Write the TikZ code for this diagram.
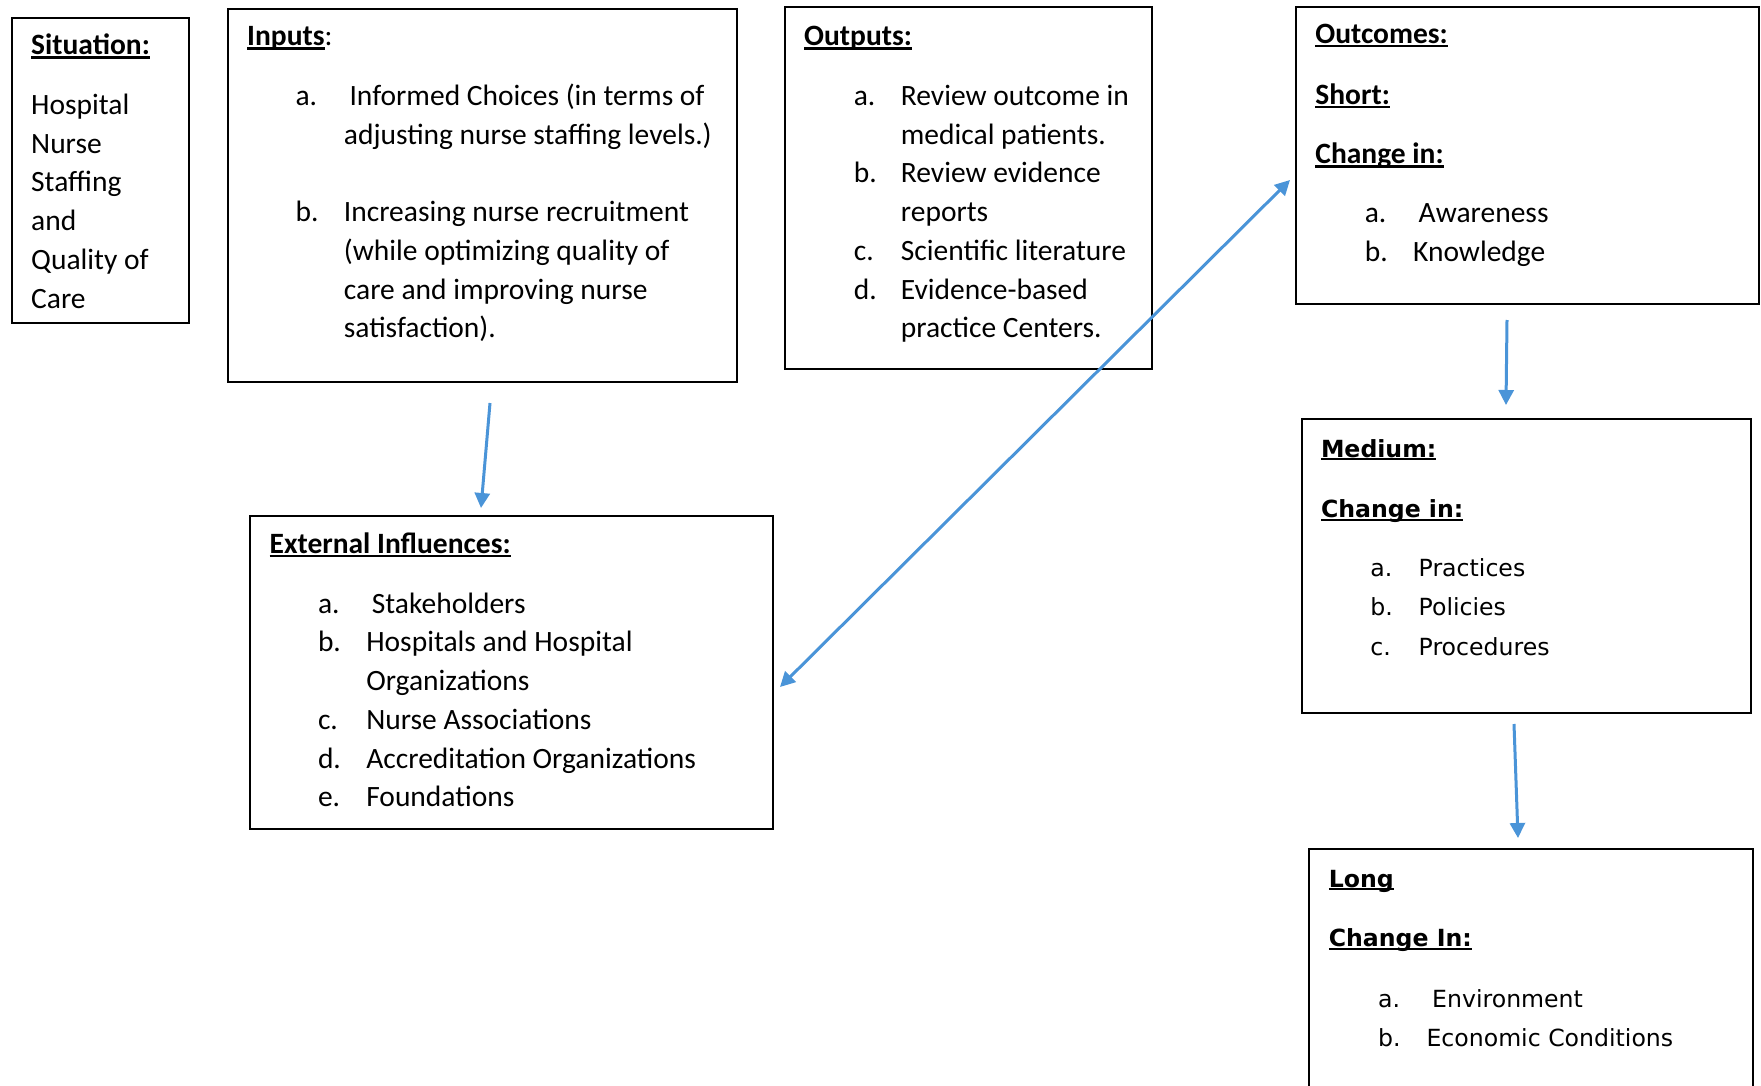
\documentclass[tikz,border=0pt]{standalone}
\usepackage{fontspec}
\usetikzlibrary{arrows.meta}
\newfontfamily\carl{Carlito}
\newfontfamily\dejav{DejaVu Sans}
\newcommand\fA{\carl\fontsize{29.5}{35}\selectfont}
\newcommand\fB{\dejav\fontsize{23.6}{28}\selectfont}
\newcommand\myul[1]{\setbox0\hbox{#1}\rlap{\rule[-0.12em]{\wd0}{0.07em}}\box0}
\definecolor{arrowblue}{RGB}{74,148,216}
\tikzset{
  box/.style={draw=black, line width=2pt, anchor=north west, inner sep=0pt},
  ta/.style={anchor=base west, inner sep=0pt, font=\fA},
  tb/.style={anchor=base west, inner sep=0pt, font=\fB},
  arr/.style={draw=arrowblue, line width=3pt, -{Triangle[length=15pt,width=15pt]}},
  darr/.style={draw=arrowblue, line width=3pt, {Triangle[length=15pt,width=15pt]}-{Triangle[length=15pt,width=15pt]}}
}
\begin{document}
\begin{tikzpicture}[x=1pt,y=-1pt]
\clip (0,0) rectangle (1761,1086);
\fill[white] (0,0) rectangle (1761,1086);
% boxes
\node[box, minimum width=177pt, minimum height=305pt] (sit) at (11,17) {};
\node[box, minimum width=509pt, minimum height=373pt] (inp) at (227,8) {};
\node[box, minimum width=367pt, minimum height=362pt] (outp) at (784,6) {};
\node[box, minimum width=463pt, minimum height=297pt] (outc) at (1295,6) {};
\node[box, minimum width=523pt, minimum height=313pt] (ext) at (249,515) {};
\node[box, minimum width=449pt, minimum height=294pt] (med) at (1301,418) {};
\node[box, minimum width=444pt, minimum height=260pt] (lng) at (1308,848) {};
% Situation
\node[ta] (s0) at (31,55) {\myul{\bfseries Situation:}};
\node[ta] (s1) at (31,114.6) {Hospital};
\node[ta] (s2) at (31,153.3) {Nurse};
\node[ta] (s3) at (31,192) {Staffing};
\node[ta] (s4) at (31,230.7) {and};
\node[ta] (s5) at (31,269.4) {Quality of};
\node[ta] (s6) at (31,308.1) {Care};
% Inputs
\node[ta] (i0) at (247,46) {\myul{\bfseries Inputs}:};
\node[ta] (i1a) at (295.4,105.6) {a.};
\node[ta] (i1) at (349.3,105.6) {Informed Choices (in terms of};
\node[ta] (i2) at (343.7,144.3) {adjusting nurse staffing levels.)};
\node[ta] (i3a) at (295.4,221.7) {b.};
\node[ta] (i3) at (343.7,221.7) {Increasing nurse recruitment};
\node[ta] (i4) at (343.7,260.4) {(while optimizing quality of};
\node[ta] (i5) at (343.7,299.1) {care and improving nurse};
\node[ta] (i6) at (343.7,337.8) {satisfaction).};
% Outputs
\node[ta] (o0) at (804,46) {\myul{\bfseries Outputs:}};
\node[ta] (o1a) at (853.6,105.6) {a.};
\node[ta] (o1) at (900.7,105.6) {Review outcome in};
\node[ta] (o2) at (900.7,144.3) {medical patients.};
\node[ta] (o3a) at (853.6,183) {b.};
\node[ta] (o3) at (900.7,183) {Review evidence};
\node[ta] (o4) at (900.7,221.7) {reports};
\node[ta] (o5a) at (853.6,260.4) {c.};
\node[ta] (o5) at (900.7,260.4) {Scientific literature};
\node[ta] (o6a) at (853.6,299.1) {d.};
\node[ta] (o6) at (900.7,299.1) {Evidence-based};
\node[ta] (o7) at (900.7,337.8) {practice Centers.};
% Outcomes
\node[ta] (c0) at (1315.2,43.8) {\myul{\bfseries Outcomes:}};
\node[ta] (c1) at (1315.2,104.5) {\myul{\bfseries Short:}};
\node[ta] (c2) at (1315.2,164) {\myul{\bfseries Change in:}};
\node[ta] (c3a) at (1364.6,222.4) {a.};
\node[ta] (c3) at (1418.5,222.4) {Awareness};
\node[ta] (c4a) at (1364.6,261.4) {b.};
\node[ta] (c4) at (1412.9,261.4) {Knowledge};
% External influences
\node[ta] (e0) at (269.5,553.7) {\myul{\bfseries External Influences:}};
\node[ta] (e1a) at (317.8,613.2) {a.};
\node[ta] (e1) at (371.7,613.2) {Stakeholders};
\node[ta] (e2a) at (317.8,651.9) {b.};
\node[ta] (e2) at (366.1,651.9) {Hospitals and Hospital};
\node[ta] (e3) at (366.1,690.6) {Organizations};
\node[ta] (e4a) at (317.8,729.3) {c.};
\node[ta] (e4) at (366.1,729.3) {Nurse Associations};
\node[ta] (e5a) at (317.8,768) {d.};
\node[ta] (e5) at (366.1,768) {Accreditation Organizations};
\node[ta] (e6a) at (317.8,806.7) {e.};
\node[ta] (e6) at (366.1,806.7) {Foundations};
% Medium
\node[tb] (m0) at (1320.8,457) {\myul{\bfseries Medium:}};
\node[tb] (m1) at (1320.8,517.8) {\myul{\bfseries Change in:}};
\node[tb] (m2a) at (1370.2,576) {a.};
\node[tb] (m2) at (1418.5,576) {Practices};
\node[tb] (m3a) at (1370.2,615.5) {b.};
\node[tb] (m3) at (1418.5,615.5) {Policies};
\node[tb] (m4a) at (1370.2,655) {c.};
\node[tb] (m4) at (1418.5,655) {Procedures};
% Long
\node[tb] (l0) at (1328.6,887) {\myul{\bfseries Long}};
\node[tb] (l1) at (1328.6,946.8) {\myul{\bfseries Change In:}};
\node[tb] (l2a) at (1378,1007.4) {a.};
\node[tb] (l2) at (1432,1007.4) {Environment};
\node[tb] (l3a) at (1378,1046.7) {b.};
\node[tb] (l3) at (1426.3,1046.7) {Economic Conditions};
% connector end points
\coordinate (p1s) at (490,403);
\coordinate (p1e) at (481,508);
\coordinate (p2s) at (780,687);
\coordinate (p2e) at (1290,180);
\coordinate (p3s) at (1507,320);
\coordinate (p3e) at (1506,405);
\coordinate (p4s) at (1514,724);
\coordinate (p4e) at (1518,838);
\draw[arr] (p1s) -- (p1e);
\draw[darr] (p2s) -- (p2e);
\draw[arr] (p3s) -- (p3e);
\draw[arr] (p4s) -- (p4e);
\end{tikzpicture}
\end{document}
